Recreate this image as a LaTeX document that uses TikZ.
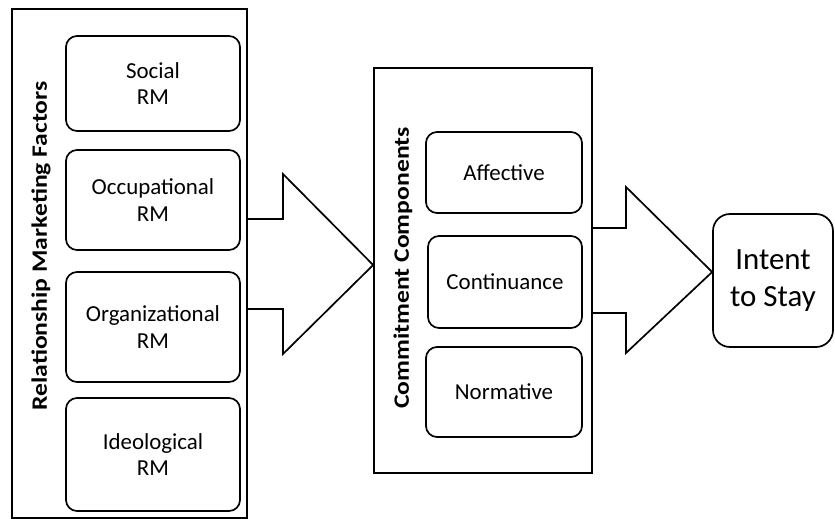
\documentclass[tikz,border=0pt]{standalone}
\usepackage{fontspec}
\setmainfont{Carlito}
\newcommand{\widelabel}[1]{\scalebox{1.17}[1]{#1}}
\begin{document}
\begin{tikzpicture}[x=1bp,y=-1bp,
  frame/.style={draw, line width=1.7bp, rectangle, inner sep=0pt},
  item/.style={draw, line width=1.7bp, rectangle, rounded corners=11bp, inner sep=0pt,
    align=center, font=\fontsize{23}{27}\selectfont},
  sidelabel/.style={rotate=90, font=\bfseries\fontsize{22}{26}\selectfont, inner sep=0pt},
  blockarrow/.style={draw, line width=1.7bp, line join=miter}]
\useasboundingbox (0,0) rectangle (835,519);

% left group: relationship marketing factors
\node[frame, minimum width=235bp, minimum height=509bp] (rmf) at (129.5,263.5) {};
\node[sidelabel] (rmflabel) at (41,246) {\widelabel{Relationship Marketing Factors}};
\node[item, minimum width=174bp, minimum height=95bp]  (social) at (153,83.5) {Social\\RM};
\node[item, minimum width=174bp, minimum height=100bp] (occ)    at (153,200)  {Occupational\\RM};
\node[item, minimum width=174bp, minimum height=110bp] (org)    at (153,327)  {Organizational\\RM};
\node[item, minimum width=174bp, minimum height=113bp] (ideo)   at (153,454.5) {Ideological\\RM};

% middle group: commitment components
\node[frame, minimum width=218bp, minimum height=405bp] (cc) at (483,270.5) {};
\node[sidelabel] (cclabel) at (403,268) {\widelabel{Commitment Components}};
\node[item, minimum width=156bp, minimum height=81bp] (aff)  at (504,172.5) {Affective};
\node[item, minimum width=154bp, minimum height=92bp] (cont) at (505,282)   {Continuance};
\node[item, minimum width=156bp, minimum height=90bp] (norm) at (504,392)   {Normative};

% outcome
\node[item, rounded corners=17bp, minimum width=120bp, minimum height=133bp,
  font=\fontsize{31}{37}\selectfont] (intent) at (773,280.5) {Intent\\to Stay};

% block arrows between the groups
\draw[blockarrow] (rmf.east |- 0,219) -- (283,219) -- (283,174) -- (cc.west |- 0,265)
  -- (283,354) -- (283,309) -- (rmf.east |- 0,309);
\draw[blockarrow] (cc.east |- 0,228) -- (626,228) -- (626,187) -- (intent.west |- 0,272)
  -- (626,353) -- (626,313) -- (cc.east |- 0,313);
\end{tikzpicture}
\end{document}
